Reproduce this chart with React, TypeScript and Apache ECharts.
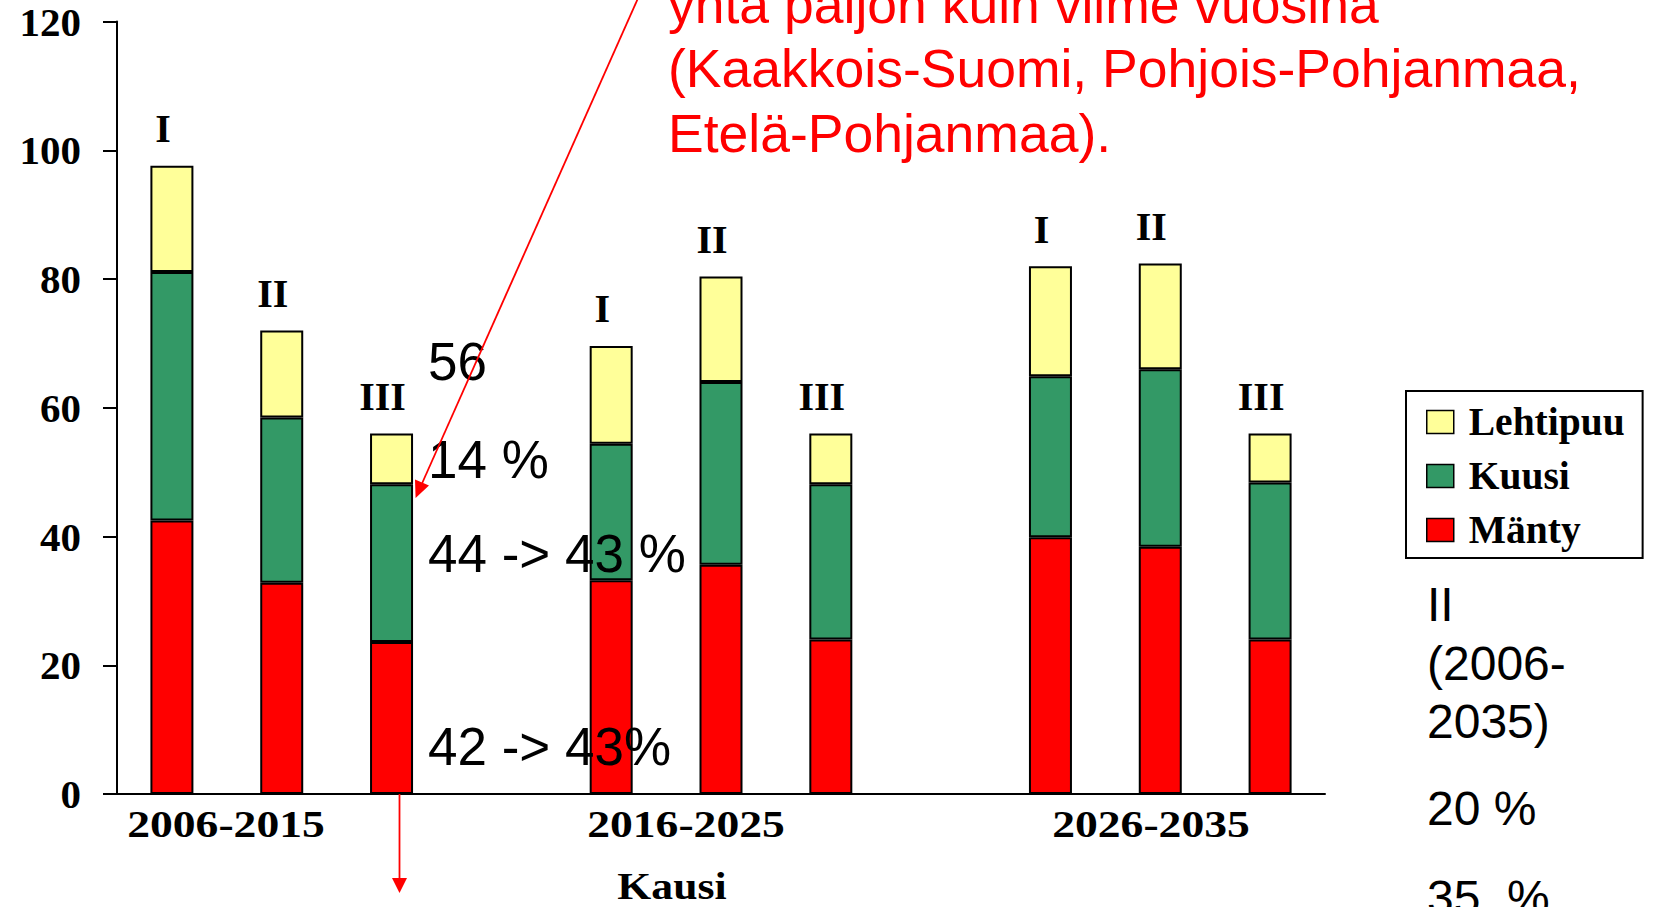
import React, { useEffect, useRef } from "react";
import * as echarts from "echarts";

const categories = [
  "2006-2015 I", "2006-2015 II", "2006-2015 III", "gap-1",
  "2016-2025 I", "2016-2025 II", "2016-2025 III", "gap-2",
  "2026-2035 I", "2026-2035 II", "2026-2035 III",
];
const romanLabels = ["I", "II", "III", "", "I", "II", "III", "", "I", "II", "III"];
const periodLabels = ["2006-2015", "2016-2025", "2026-2035"];
const yTicks = [0, 20, 40, 60, 80, 100, 120];

const manty = [42.5, 32.8, 23.6, null, 33.2, 35.6, 24.0, null, 39.9, 38.4, 24.0];
const kuusi = [38.6, 25.7, 24.5, null, 21.2, 28.4, 24.1, null, 25.0, 27.6, 24.4];
const lehtipuu = [16.5, 13.5, 7.9, null, 15.2, 16.4, 7.9, null, 17.1, 16.4, 7.6];

const seriesNames = ["Mänty", "Kuusi", "Lehtipuu"];
const legendOrder = ["Lehtipuu", "Kuusi", "Mänty"];

const redLines = [
  "yhtä paljon kuin viime vuosina",
  "(Kaakkois-Suomi, Pohjois-Pohjanmaa,",
  "Etelä-Pohjanmaa).",
];
const blackNotes = ["56", "14 %", "44 -> 43 %", "42 -> 43%"];
const sideNotes = ["II", "(2006-", "2035)", "20 %", "35  %"];
const axisName = "Kausi";

const SERIF = "'Liberation Serif', 'Times New Roman', serif";
const SANS = "'Liberation Sans', Arial, sans-serif";

export default function App() {
  const ref = useRef<HTMLDivElement>(null);

  useEffect(() => {
    if (!ref.current) return;
    const chart = echarts.init(ref.current, null, { renderer: "svg" });

    const barBase = {
      type: "bar",
      stack: "total",
      barWidth: 43,
    };
    const border = { borderColor: "#000", borderWidth: 2 };

    const sansBase = (size: number, color: string) => ({
      fontFamily: SANS,
      fontSize: size,
      fill: color,
      verticalAlign: "middle",
      align: "left",
    });

    const graphic: any[] = [];
    // red annotation text
    const redBaselines = [23, 87, 152];
    redLines.forEach((t, i) => {
      graphic.push({
        type: "text",
        z: 100,
        x: 668,
        y: redBaselines[i] - 0.3465 * 53.5,
        style: { text: t, ...sansBase(53.5, "#FF0000") },
      });
    });
    // black notes near bar III
    const blackBaselines = [380, 478, 572, 765];
    blackNotes.forEach((t, i) => {
      graphic.push({
        type: "text",
        z: 100,
        x: 428,
        y: blackBaselines[i] - 0.3465 * 53,
        style: { text: t, ...sansBase(53, "#000") },
      });
    });
    // side notes
    const sideBaselines = [621, 680, 738, 825, 914];
    sideNotes.forEach((t, i) => {
      graphic.push({
        type: "text",
        z: 100,
        x: 1427,
        y: sideBaselines[i] - 0.3465 * 48,
        style: { text: t, ...sansBase(48, "#000"), whiteSpace: "pre" },
      });
    });
    // period labels
    const periodCenters = [226, 686, 1151];
    periodLabels.forEach((t, i) => {
      graphic.push({
        type: "text",
        z: 100,
        x: periodCenters[i],
        y: 837 - 0.3375 * 38,
        scaleX: 1.2,
        style: {
          text: t,
          fontFamily: SERIF,
          fontWeight: "bold",
          fontSize: 38,
          fill: "#000",
          align: "center",
          verticalAlign: "middle",
        },
      });
    });
    graphic.push({
      type: "text",
      z: 100,
      x: 672,
      y: 899 - 0.3375 * 38,
      scaleX: 1.15,
      style: {
        text: axisName,
        fontFamily: SERIF,
        fontWeight: "bold",
        fontSize: 38,
        fill: "#000",
        align: "center",
        verticalAlign: "middle",
      },
    });
    // red diagonal arrow
    graphic.push({
      type: "line",
      z: 110,
      shape: { x1: 639, y1: -4, x2: 420, y2: 488 },
      style: { stroke: "#FF0000", lineWidth: 1.8 },
    });
    graphic.push({
      type: "polygon",
      z: 110,
      shape: { points: [[415.6, 498], [429, 485.5], [415, 479.5]] },
      style: { fill: "#FF0000" },
    });
    // red vertical arrow
    graphic.push({
      type: "line",
      z: 110,
      shape: { x1: 399.5, y1: 794, x2: 399.5, y2: 882 },
      style: { stroke: "#FF0000", lineWidth: 1.8 },
    });
    graphic.push({
      type: "polygon",
      z: 110,
      shape: { points: [[392, 878], [407, 878], [399.5, 893]] },
      style: { fill: "#FF0000" },
    });

    chart.setOption({
      animation: false,
      backgroundColor: "#fff",
      grid: {
        left: 117,
        right: 333,
        top: 21.5,
        bottom: 113,
        outerBoundsMode: "none",
        containLabel: false,
      },
      legend: {
        orient: "vertical",
        left: 1406,
        top: 391,
        data: legendOrder,
        icon: "rect",
        itemWidth: 27,
        itemHeight: 23,
        itemGap: 14,
        padding: [11, 18, 8, 20],
        borderColor: "#000",
        borderWidth: 2,
        borderRadius: 0,
        itemStyle: { borderColor: "#000", borderWidth: 1.5 },
        textStyle: {
          fontFamily: SERIF,
          fontWeight: "bold",
          fontSize: 39.5,
          lineHeight: 40,
          color: "#000",
          padding: [0, 0, 0, 10],
        },
        selectedMode: false,
      },
      xAxis: {
        type: "category",
        data: categories,
        axisLine: { show: true, lineStyle: { color: "#000", width: 2 } },
        axisTick: { show: false },
        axisLabel: { show: false },
        splitLine: { show: false },
      },
      yAxis: {
        type: "value",
        min: yTicks[0],
        max: yTicks[yTicks.length - 1],
        interval: 20,
        axisLine: { show: true, lineStyle: { color: "#000", width: 2 } },
        axisTick: { show: true, length: 14, lineStyle: { color: "#000", width: 2 } },
        splitLine: { show: false },
        axisLabel: {
          margin: 36,
          fontFamily: SERIF,
          fontWeight: "bold",
          fontSize: 41,
          color: "#000",
        },
      },
      series: [
        {
          ...barBase,
          name: seriesNames[0],
          data: manty,
          itemStyle: { color: "#FF0000", ...border },
        },
        {
          ...barBase,
          name: seriesNames[1],
          data: kuusi,
          itemStyle: { color: "#339966", ...border },
        },
        {
          ...barBase,
          name: seriesNames[2],
          data: lehtipuu,
          itemStyle: { color: "#FFFF99", ...border },
          label: {
            show: true,
            position: "top",
            distance: 17,
            offset: [-9, 0],
            formatter: (p: any) => romanLabels[p.dataIndex],
            fontFamily: SERIF,
            fontWeight: "bold",
            fontSize: 40,
            color: "#000",
          },
        },
      ],
      graphic,
    });

    return () => chart.dispose();
  }, []);

  return (
    <div
      ref={ref}
      style={{
        position: "fixed",
        left: 0,
        top: 0,
        width: 1658,
        height: 907,
        background: "#fff",
      }}
    />
  );
}
